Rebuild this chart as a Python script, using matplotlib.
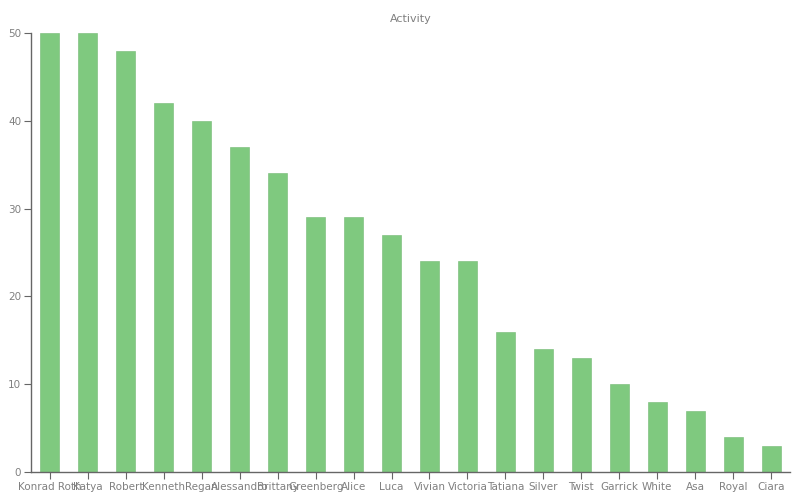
import matplotlib
matplotlib.use("Agg")
from matplotlib import pyplot as plt

names = ["Konrad Roth", "Katya", "Robert", "Kenneth", "Regan", "Alessandro",
         "Brittany", "Greenberg", "Alice", "Luca", "Vivian", "Victoria",
         "Tatiana", "Silver", "Twist", "Garrick", "White", "Asa", "Royal", "Ciara"]
activity = [50, 50, 48, 42, 40, 37, 34, 29, 29, 27, 24, 24, 16, 14, 13, 10, 8, 7, 4, 3]

text_color = "#808080"
axis_color = "#666666"

fig = plt.figure(figsize=(8, 5), dpi=100)
ax = fig.add_axes([0.03875, 0.056, 0.94875, 0.878])

x = range(len(names))
ax.bar(x, activity, width=0.5, color="#7fc97f", edgecolor="#74b874", linewidth=0.4)

ax.set_xlim(-0.5, len(names) - 0.5)
ax.set_ylim(0, 50)
ax.set_xticks(list(x))
ax.set_xticklabels(names)
ax.set_yticks([0, 10, 20, 30, 40, 50])

for side in ("top", "right"):
    ax.spines[side].set_visible(False)
for side in ("left", "bottom"):
    ax.spines[side].set_color(axis_color)
    ax.spines[side].set_linewidth(1.0)

ax.tick_params(axis="both", colors=axis_color, labelcolor=text_color,
               labelsize=7.5, length=5, width=0.8, pad=2)

ax.set_title("Activity", fontsize=8, color=text_color, pad=8)

fig.savefig("out.png", dpi=100)
